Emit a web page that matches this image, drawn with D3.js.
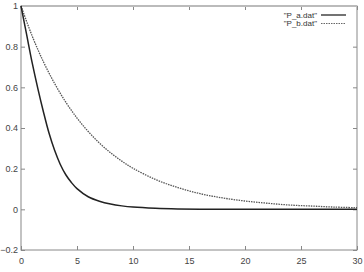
<!DOCTYPE html>
<html>
<head>
<meta charset="utf-8">
<script src="https://cdn.jsdelivr.net/npm/d3@7"></script>
<style>
  body { margin: 0; background: #fff; }
  text { font-family: "Liberation Sans", Arial, sans-serif; }
</style>
</head>
<body>
<div id="chart"></div>
<script>
// values
const xA = [0, 0.5, 1, 1.5, 2, 2.5, 3, 3.5, 4, 4.5, 5, 6, 7, 8, 9, 10, 12, 14, 17, 20, 25, 30];
const yA = [1, 0.86, 0.72, 0.595, 0.48, 0.375, 0.29, 0.222, 0.17, 0.132, 0.102, 0.062, 0.04, 0.026, 0.017, 0.011, 0.005, 0.002, 0.0005, 0, 0, 0];

const xB = [0, 1, 2, 3, 4, 5, 6, 7, 8, 9, 10, 12, 14, 16, 18, 20, 22, 24, 26, 28, 30];
const yB = [1, 0.852, 0.726, 0.619, 0.527, 0.449, 0.383, 0.326, 0.278, 0.237, 0.202, 0.147, 0.107, 0.077, 0.056, 0.041, 0.03, 0.021, 0.016, 0.011, 0.008];

const xTicks = [0, 5, 10, 15, 20, 25, 30];
const yTicks = [-0.2, 0, 0.2, 0.4, 0.6, 0.8, 1];
const seriesNames = ['"P_a.dat"', '"P_b.dat"'];

const margin = { top: 6, right: 7, bottom: 22, left: 21 },
    width = 364 - margin.left - margin.right,
    height = 272 - margin.top - margin.bottom;

const svg = d3.select("#chart")
    .append("svg")
    .attr("width", 364)
    .attr("height", 272)
    .append("g")
    .attr("transform", `translate(${margin.left},${margin.top})`);

const xScale = d3.scaleLinear().domain([0, 30]).range([0, width]);
const yScale = d3.scaleLinear().domain([-0.2, 1]).range([height, 0]);

// axes with inward ticks (gnuplot style)
const fmt = d => d === 0 ? "0" : d3.format("")(d);
svg.append("g")
    .attr("transform", `translate(0,${height})`)
    .call(d3.axisBottom(xScale).tickValues(xTicks).tickSize(-4).tickPadding(8).tickFormat(fmt))
    .call(g => g.select(".domain").remove());
svg.append("g")
    .call(d3.axisLeft(yScale).tickValues(yTicks).tickSize(-4).tickPadding(3).tickFormat(fmt))
    .call(g => g.select(".domain").remove());
svg.append("g")
    .call(d3.axisTop(xScale).tickValues(xTicks).tickSize(-4).tickFormat(""))
    .call(g => g.select(".domain").remove());
svg.append("g")
    .attr("transform", `translate(${width},0)`)
    .call(d3.axisRight(yScale).tickValues(yTicks).tickSize(-4).tickFormat(""))
    .call(g => g.select(".domain").remove());

svg.selectAll(".tick line").attr("stroke", "#888");
svg.selectAll(".tick text").attr("font-size", 9).attr("fill", "#444");

// frame
svg.append("rect")
    .attr("x", 0).attr("y", 0)
    .attr("width", width).attr("height", height)
    .attr("fill", "none")
    .attr("stroke", "#888")
    .attr("stroke-width", 1);
svg.append("line")
    .attr("x1", 0).attr("x2", width)
    .attr("y1", 0).attr("y2", 0)
    .attr("stroke", "#bbb")
    .attr("stroke-width", 2);

const line = d3.line()
    .x(d => xScale(d[0]))
    .y(d => yScale(d[1]))
    .curve(d3.curveCatmullRom.alpha(0.5));

const dataA = xA.map((x, i) => [x, yA[i]]);
const dataB = xB.map((x, i) => [x, yB[i]]);

svg.append("path")
    .datum(dataB)
    .attr("d", line)
    .attr("fill", "none")
    .attr("stroke", "#555")
    .attr("stroke-width", 1.3)
    .attr("stroke-dasharray", "1.5,1");

svg.append("path")
    .datum(dataA)
    .attr("d", line)
    .attr("fill", "none")
    .attr("stroke", "#222")
    .attr("stroke-width", 1.5);

// legend
const legend = svg.append("g");
seriesNames.forEach((name, i) => {
    const y = 9 + i * 8.5;
    legend.append("text")
        .attr("x", 296)
        .attr("y", y + 2.8)
        .attr("text-anchor", "end")
        .attr("font-size", 8)
        .attr("fill", "#333")
        .text(name);
    legend.append("line")
        .attr("x1", 300).attr("x2", 325)
        .attr("y1", y).attr("y2", y)
        .attr("stroke", i === 0 ? "#444" : "#666")
        .attr("stroke-width", i === 0 ? 1.5 : 1.2)
        .attr("stroke-dasharray", i === 0 ? null : "1.5,1");
});
</script>
</body>
</html>
